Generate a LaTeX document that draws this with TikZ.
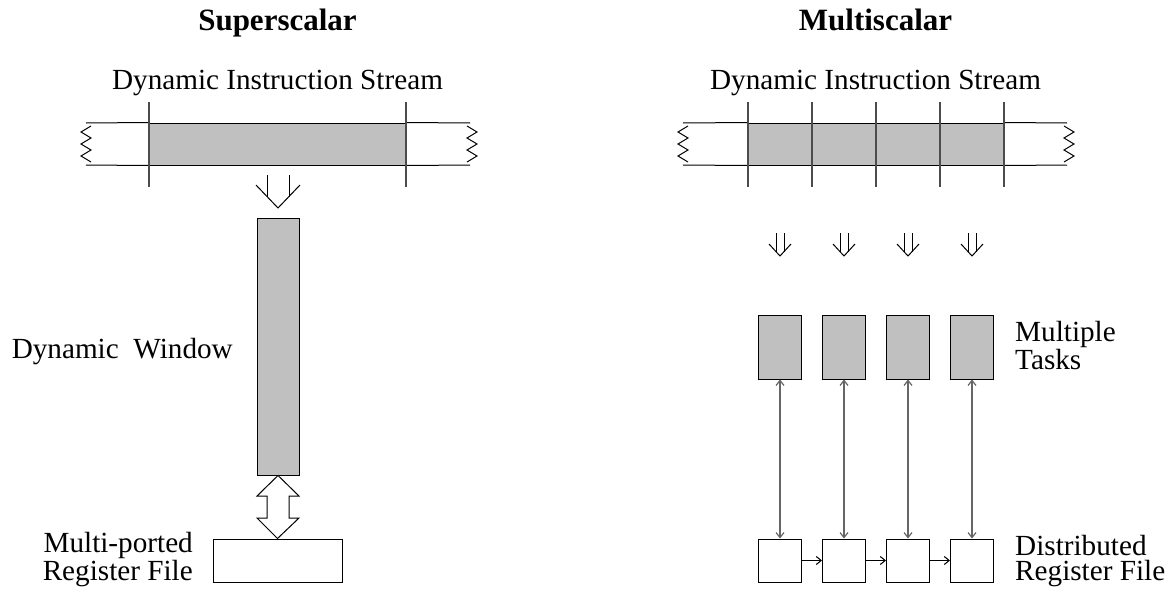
\documentclass[tikz,border=0pt]{standalone}
\usepackage{fontspec}
\setmainfont{Liberation Serif}
\usetikzlibrary{arrows.meta}
\definecolor{boxgray}{HTML}{C0C0C0}
\tikzset{
  lab/.style={inner sep=0pt, font=\fontsize{29.2}{25}\selectfont},
  ttl/.style={inner sep=0pt, anchor=base, font=\fontsize{31}{34}\selectfont\bfseries},
  graybox/.style={draw=black, fill=boxgray, line width=1pt, inner sep=0pt},
  whitebox/.style={draw=black, fill=white, line width=1pt, inner sep=0pt},
  ln/.style={line width=1pt, black},
  tick/.style={line width=1.2pt, black!70},
  tinyarrow/.style={-{Straight Barb[length=5pt,width=8pt]}, line width=1pt},
  dbl/.style={{Straight Barb[length=5pt,width=8pt]}-{Straight Barb[length=5pt,width=8pt]}, line width=1.2pt, black!60},
}
\begin{document}
\begin{tikzpicture}[x=1pt,y=-1pt]
\useasboundingbox (0,0) rectangle (1175,589);

% ---------------- Superscalar ----------------
\node[ttl] (t1) at (277.5,30.5) {Superscalar};
\node[lab, anchor=base] (s1) at (277.5,89.5) {Dynamic Instruction Stream};

\node[graybox, minimum width=257, minimum height=42] (cur) at (277.5,144) {};
\draw[ln] (86,123) -- (cur.north west) (cur.north east) -- (470,123);
\draw[ln] (86,165) -- (cur.south west) (cur.south east) -- (470,165);
\draw[tick] (149,102) -- (149,187);
\draw[tick] (406,102) -- (406,187);
\draw[ln] (91,126) -- (81,132) -- (91,138) -- (81,144) -- (91,150) -- (81,156) -- (91,162);
\draw[ln] (467,126) -- (477,132) -- (467,138) -- (477,144) -- (467,150) -- (477,156) -- (467,162);

% hollow arrow
\draw[ln] (267,175) -- (267,196.5);
\draw[ln] (289,175) -- (289,196.5);
\draw[ln] (256,185) -- (278,208) -- (300,185);

\node[graybox, minimum width=42, minimum height=257] (win) at (278,346.5) {};
\node[lab, anchor=base east] (wl) at (233,358.5) {Dynamic\ \ Window};

\node[whitebox, minimum width=129, minimum height=43] (rf) at (277.5,560.5) {};
\draw[ln, fill=white] (win.south) -- (299,496) -- (289,496) -- (289,518) -- (299,518)
  -- (rf.north) -- (257,518) -- (267,518) -- (267,496) -- (257,496) -- cycle;
\node[lab, anchor=base east, align=right] (mp) at (193,580) {Multi-ported\\Register File};

% ---------------- Multiscalar ----------------
\node[ttl] (t2) at (875.5,30.5) {Multiscalar};
\node[lab, anchor=base] (s2) at (875.5,89.5) {Dynamic Instruction Stream};

\foreach \i/\cx in {1/780,2/844,3/908,4/972}{
  \node[graybox, minimum width=64, minimum height=42] (c\i) at (\cx,144) {};
  \draw[ln] (\cx-4,233) -- (\cx-4,251.6);
  \draw[ln] (\cx+4,233) -- (\cx+4,251.6);
  \draw[ln] (\cx-11,244) -- (\cx,256) -- (\cx+11,244);
  \node[graybox, minimum width=43, minimum height=64] (tk\i) at (\cx,347) {};
  \node[whitebox, minimum width=43, minimum height=43] (rg\i) at (\cx,560.5) {};
  \draw[dbl] (tk\i.south) -- (rg\i.north);
}
\draw[ln] (683,123) -- (c1.north west) (c4.north east) -- (1067,123);
\draw[ln] (683,165) -- (c1.south west) (c4.south east) -- (1067,165);
\foreach \x in {748,812,876,940,1004}{
  \draw[tick] (\x,102) -- (\x,187);
}
\draw[ln] (688,126) -- (678,132) -- (688,138) -- (678,144) -- (688,150) -- (678,156) -- (688,162);
\draw[ln] (1064,126) -- (1074,132) -- (1064,138) -- (1074,144) -- (1064,150) -- (1074,156) -- (1064,162);

\draw[tinyarrow] (rg1.east) -- (rg2.west);
\draw[tinyarrow] (rg2.east) -- (rg3.west);
\draw[tinyarrow] (rg3.east) -- (rg4.west);

\node[lab, anchor=base west, align=left] (mt) at (1015,369) {Multiple\\Tasks};
\node[lab, anchor=base west, align=left] (dr) at (1015,580) {Distributed\\Register File};
\end{tikzpicture}
\end{document}
